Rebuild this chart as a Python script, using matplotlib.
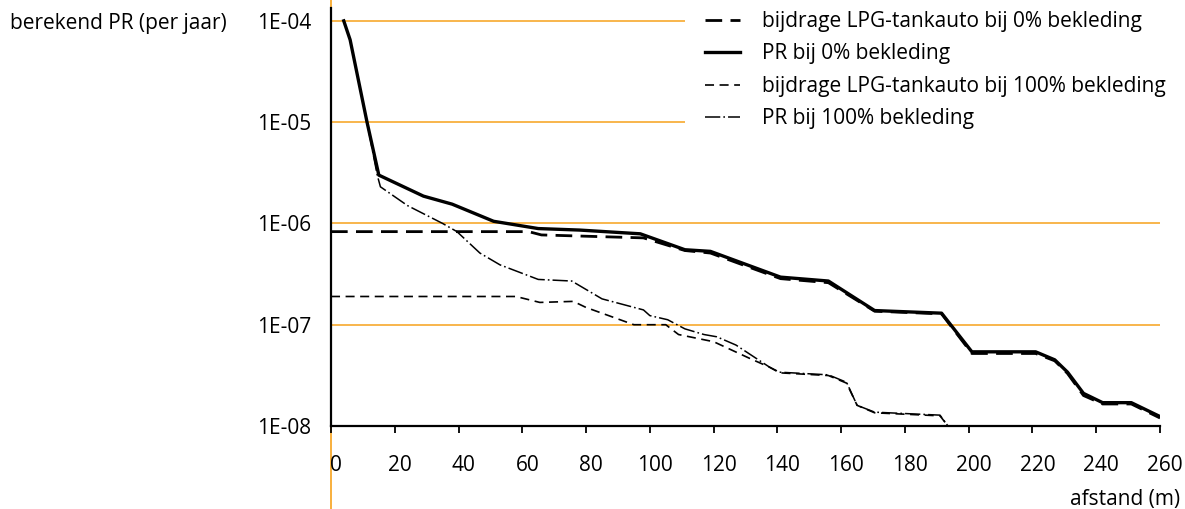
import matplotlib.pyplot as plt
import matplotlib.transforms as mtransforms
from matplotlib.lines import Line2D

plt.rcParams['font.family'] = ['Open Sans', 'DejaVu Sans']
plt.rcParams['lines.scale_dashes'] = False

# data (afstand in m, PR per jaar)
pr0_x = [4, 6, 11.3, 15, 29, 38, 51, 65, 78, 97, 111, 119, 141, 156, 170.5, 191.5,
         201, 221, 227, 231, 236, 242, 251, 260]
pr0_y = [1e-4, 6.5e-5, 1.0e-5, 3.0e-6, 1.86e-6, 1.55e-6, 1.05e-6, 8.9e-7, 8.6e-7, 7.9e-7,
         5.5e-7, 5.3e-7, 2.95e-7, 2.7e-7, 1.38e-7, 1.3e-7, 5.4e-8, 5.4e-8, 4.5e-8,
         3.4e-8, 2.1e-8, 1.7e-8, 1.7e-8, 1.24e-8]

lpg0_x = [0, 62, 66, 98, 111, 119, 141, 156, 170.5, 191.5, 201, 221, 227, 231, 236,
          242, 251, 260]
lpg0_y = [8.3e-7, 8.3e-7, 7.7e-7, 7.2e-7, 5.4e-7, 5.1e-7, 2.85e-7, 2.6e-7, 1.36e-7,
          1.28e-7, 5.2e-8, 5.2e-8, 4.4e-8, 3.3e-8, 2.0e-8, 1.65e-8, 1.65e-8, 1.2e-8]

pr100_x = [4, 6, 11.3, 14.5, 15.5, 24, 35, 39.5, 46.7, 53, 65, 75.5, 85, 98, 100, 105.6,
           111, 117, 121, 127, 137.6, 140.7, 156, 161.7, 165, 170.5, 191, 193.5]
pr100_y = [1e-4, 6.5e-5, 1.0e-5, 3.0e-6, 2.3e-6, 1.5e-6, 1.0e-6, 8.3e-7, 5.1e-7, 3.9e-7,
           2.8e-7, 2.7e-7, 1.8e-7, 1.4e-7, 1.23e-7, 1.12e-7, 9.1e-8, 8.0e-8, 7.6e-8,
           6.3e-8, 3.8e-8, 3.4e-8, 3.2e-8, 2.7e-8, 1.6e-8, 1.37e-8, 1.28e-8, 1.0e-8]

lpg100_x = [0, 58, 65.5, 76, 80, 95, 105, 109, 118, 120, 131, 137.6, 140.7, 156, 161.7,
            165, 170.5, 191, 193.5]
lpg100_y = [1.9e-7, 1.9e-7, 1.66e-7, 1.7e-7, 1.48e-7, 1.0e-7, 1.0e-7, 8.0e-8, 7.0e-8,
            6.8e-8, 4.7e-8, 3.8e-8, 3.35e-8, 3.15e-8, 2.65e-8, 1.6e-8, 1.35e-8, 1.26e-8,
            1.0e-8]

y_ticks = [1e-8, 1e-7, 1e-6, 1e-5, 1e-4]
y_labels = ['1E-08', '1E-07', '1E-06', '1E-05', '1E-04']
x_ticks = list(range(0, 261, 20))

orange = '#f7a21b'
fs = 15

fig = plt.figure(figsize=(11.85, 5.09), dpi=100)
ax = fig.add_axes([331 / 1185, 83 / 509, 829 / 1185, 418 / 509])

ax.set_yscale('log')
ax.set_xlim(0, 260)
ax.set_ylim(1e-8, 1.34e-4)

# orange grid lines, the upper two stop before the legend
ax.hlines([1e-4, 1e-5], 0, 111, color=orange, lw=1.1, zorder=1)
ax.hlines([1e-6, 1e-7], 0, 260, color=orange, lw=1.1, zorder=1)

# orange vertical line through the whole figure at x=0
trans = mtransforms.blended_transform_factory(ax.transData, fig.transFigure)
fig.add_artist(Line2D([0, 0], [0, 1], transform=trans, color=orange, lw=1.2, zorder=0))

ax.plot(lpg0_x, lpg0_y, color='black', lw=2.0, dashes=(12, 6),
        label='bijdrage LPG-tankauto bij 0% bekleding', zorder=3)
ax.plot(pr0_x, pr0_y, color='black', lw=2.4, solid_joinstyle='round',
        label='PR bij 0% bekleding', zorder=4)
ax.plot(lpg100_x, lpg100_y, color='black', lw=1.2, dashes=(6.5, 4.0),
        label='bijdrage LPG-tankauto bij 100% bekleding', zorder=3)
ax.plot(pr100_x, pr100_y, color='black', lw=1.1, dashes=(11, 2.2, 1.2, 2.2),
        label='PR bij 100% bekleding', zorder=3)

for s in ['top', 'right']:
    ax.spines[s].set_visible(False)
ax.spines['left'].set_linewidth(1.6)
ax.spines['bottom'].set_linewidth(1.6)
ax.spines['left'].set_zorder(5)

ax.set_yticks(y_ticks)
ax.set_yticklabels(y_labels)
ax.yaxis.set_minor_locator(plt.NullLocator())
ax.tick_params(axis='y', length=0, pad=14, labelsize=fs)
ax.set_xticks(x_ticks)
ax.tick_params(axis='x', direction='out', length=5, width=1.3, pad=16, labelsize=fs)
off = mtransforms.ScaledTranslation(5 / 100, 0, fig.dpi_scale_trans)
for lab in ax.get_xticklabels():
    lab.set_transform(lab.get_transform() + off)

fig.text(10 / 1185, 1 - 23 / 509, 'berekend PR (per jaar)', fontsize=fs,
         ha='left', va='center')
fig.text(1180 / 1185, 1 - 500 / 509, 'afstand (m)', fontsize=fs,
         ha='right', va='center')

fig.legend(loc='upper left', bbox_to_anchor=(705 / 1185, 1 - 11 / 509), frameon=False,
           fontsize=fs, handlelength=1.7, handletextpad=1.05, labelspacing=0.55,
           borderpad=0, borderaxespad=0)

fig.savefig('out.png', dpi=100)
